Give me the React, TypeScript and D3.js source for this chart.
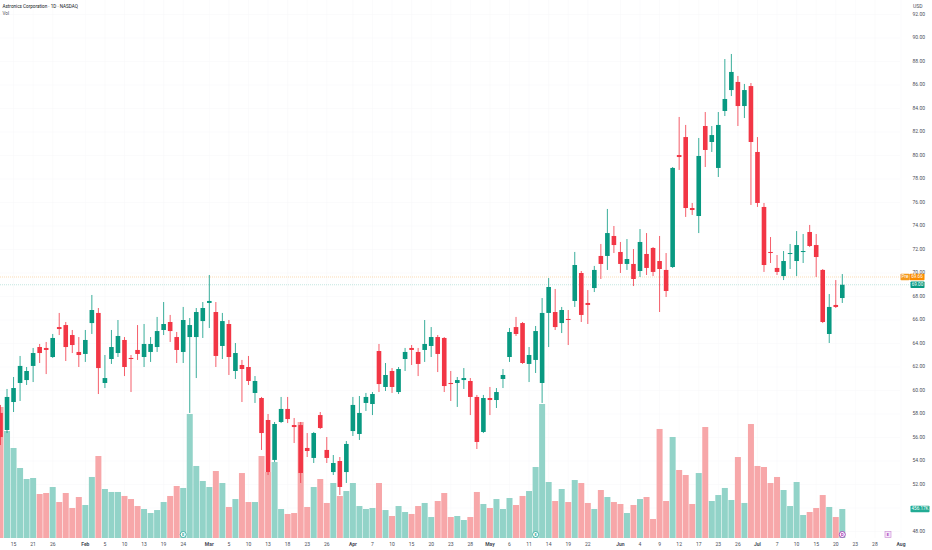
import React, { useEffect, useRef } from 'react';
import * as d3 from 'd3';

// Astronics Corporation, 1D, NASDAQ — daily bars, oldest first
const opens = [
  58.09, 56.64, 59.02, 60.64, 60.89, 62.09, 63.70, 63.62, 62.85, 65.40,
  65.57, 64.72, 63.28, 63.11, 65.74, 66.60, 60.64, 62.68, 63.19, 64.30,
  62.77, 63.45, 62.85, 63.28, 63.70, 65.15, 65.83, 64.55, 63.28, 64.55,
  64.55, 65.91, 67.45, 66.68, 63.79, 65.66, 61.66, 62.17, 62.00, 59.79,
  59.36, 57.49, 54.09, 57.32, 58.43, 57.06, 57.06, 55.11, 54.26, 57.91,
  54.94, 53.06, 54.00, 53.06, 56.55, 56.30, 58.94, 58.85, 63.36, 60.30,
  61.66, 59.87, 62.68, 63.62, 63.28, 63.45, 63.79, 64.55, 64.47, 60.64,
  60.64, 60.89, 60.81, 59.45, 56.47, 59.36, 59.19, 60.98, 62.85, 65.40,
  65.74, 62.26, 62.60, 60.64, 66.60, 66.68, 65.74, 66.09, 67.62, 70.00,
  67.45, 68.72, 71.45, 71.45, 73.15, 71.79, 70.77, 70.77, 70.17, 71.62,
  72.13, 71.02, 70.26, 70.51, 80.04, 81.57, 75.53, 74.85, 82.51, 81.15,
  78.94, 83.79, 85.57, 86.26, 84.21, 85.91, 80.30, 75.62, 71.79, 70.43,
  69.74, 71.62, 71.02, 71.79, 73.49, 72.38, 70.26, 64.81, 67.28, 67.87,
];
const highs = [
  58.77, 60.13, 61.15, 62.94, 62.00, 63.62, 63.96, 64.13, 64.81, 66.60,
  65.83, 65.15, 64.55, 65.15, 68.13, 67.02, 63.02, 65.15, 66.00, 64.55,
  63.02, 65.57, 65.66, 64.55, 66.26, 67.53, 66.43, 64.98, 67.11, 66.17,
  67.02, 67.53, 69.83, 67.53, 66.60, 66.00, 64.04, 62.60, 62.94, 61.23,
  59.45, 58.00, 57.32, 59.45, 59.45, 57.66, 57.32, 56.38, 56.47, 58.17,
  56.04, 54.51, 54.34, 55.70, 59.45, 59.53, 59.79, 59.87, 63.96, 62.34,
  61.91, 62.00, 63.62, 63.87, 63.62, 66.00, 65.40, 64.72, 64.55, 61.66,
  61.15, 61.91, 61.06, 59.62, 59.62, 60.30, 60.21, 61.83, 65.32, 66.26,
  65.83, 63.70, 65.49, 67.87, 69.57, 68.64, 67.11, 66.85, 71.79, 70.17,
  68.55, 70.60, 72.47, 75.45, 74.00, 72.64, 72.89, 72.04, 73.74, 73.40,
  72.21, 73.15, 71.70, 79.02, 83.28, 82.60, 75.96, 81.49, 83.70, 82.51,
  83.70, 88.21, 88.64, 86.77, 86.09, 86.17, 81.57, 75.96, 73.06, 71.53,
  71.87, 72.47, 73.57, 73.32, 74.09, 73.32, 70.34, 68.21, 69.40, 69.91,
];
const lows = [
  55.36, 56.38, 58.17, 59.11, 60.47, 60.72, 62.34, 61.40, 62.77, 64.72,
  62.51, 63.19, 62.00, 62.43, 64.81, 59.70, 60.21, 62.26, 62.85, 61.23,
  59.87, 62.60, 62.00, 62.43, 63.28, 64.72, 64.13, 62.34, 62.34, 58.09,
  61.06, 64.47, 65.32, 62.00, 62.68, 61.32, 60.98, 59.02, 60.47, 58.94,
  54.94, 52.81, 53.91, 57.23, 57.23, 55.53, 52.13, 54.34, 53.83, 56.72,
  53.83, 52.81, 51.11, 52.13, 56.13, 55.79, 58.26, 57.91, 59.87, 59.96,
  59.79, 59.70, 61.66, 62.17, 61.23, 62.43, 62.85, 61.57, 59.87, 59.11,
  58.60, 60.13, 57.91, 55.02, 56.38, 57.91, 58.51, 60.21, 62.43, 64.64,
  62.26, 60.72, 61.49, 58.94, 63.70, 65.15, 64.89, 63.87, 67.11, 65.83,
  65.66, 68.38, 69.49, 70.26, 71.70, 70.00, 70.26, 68.89, 69.66, 69.83,
  69.74, 66.68, 67.96, 70.43, 78.77, 74.77, 74.94, 73.40, 79.02, 80.30,
  78.17, 83.36, 85.06, 82.51, 83.19, 75.79, 75.62, 70.09, 70.85, 69.83,
  69.40, 70.34, 69.74, 70.85, 72.21, 69.66, 65.74, 64.04, 67.02, 67.45,
];
const closes = [
  56.04, 59.45, 60.21, 62.09, 61.66, 63.19, 63.19, 63.45, 64.47, 65.23,
  63.70, 63.87, 63.02, 64.30, 66.85, 61.91, 61.06, 63.70, 64.64, 62.00,
  62.68, 63.11, 63.96, 63.96, 65.06, 65.66, 65.06, 63.45, 66.00, 65.57,
  66.68, 67.02, 67.62, 62.94, 65.91, 62.85, 63.19, 61.83, 60.81, 60.81,
  56.38, 53.06, 57.15, 58.43, 57.57, 56.89, 52.98, 54.85, 56.38, 56.81,
  54.26, 53.83, 51.79, 55.45, 58.77, 58.09, 59.45, 59.70, 60.55, 61.32,
  60.30, 61.83, 63.28, 63.45, 62.26, 63.96, 64.55, 63.11, 60.38, 60.55,
  60.89, 61.06, 59.45, 55.62, 59.36, 59.19, 59.87, 61.32, 64.98, 64.81,
  62.34, 63.02, 65.06, 66.60, 68.81, 65.40, 66.85, 66.00, 70.68, 66.43,
  67.28, 70.26, 70.77, 73.40, 72.38, 70.77, 71.19, 69.49, 72.64, 70.43,
  70.09, 70.34, 68.47, 78.94, 79.87, 75.53, 75.36, 79.96, 80.47, 81.74,
  82.60, 84.81, 87.11, 84.21, 85.57, 81.15, 75.96, 70.68, 71.70, 70.09,
  71.02, 71.70, 72.38, 71.87, 72.30, 71.36, 65.83, 67.11, 67.11, 69.00,
];
// volume in thousands of shares
const volumes = [
  2061, 1683, 1416, 1101, 928, 944, 692, 708, 802, 566,
  708, 472, 645, 519, 960, 1290, 771, 724, 724, 661,
  613, 503, 456, 393, 440, 566, 661, 818, 787, 1951,
  1133, 897, 802, 1054, 865, 488, 613, 1022, 566, 566,
  1290, 1038, 1195, 456, 378, 393, 1825, 488, 802, 928,
  551, 865, 661, 739, 865, 503, 456, 472, 865, 440,
  346, 503, 409, 378, 503, 551, 330, 582, 708, 330,
  346, 283, 330, 724, 535, 472, 613, 456, 629, 519,
  661, 739, 1117, 2108, 881, 582, 771, 566, 912, 865,
  551, 456, 755, 645, 566, 535, 393, 519, 613, 645,
  299, 1715, 582, 1589, 1070, 991, 535, 1022, 1746, 582,
  676, 787, 598, 1274, 551, 1793, 1133, 1117, 865, 960,
  755, 503, 881, 362, 409, 472, 676, 488, 330, 456.17,
];

// time axis: bar index of each label (the last three lie in the future)
const tickIndex = [
  2, 5, 8, 13, 16, 19, 22, 25, 28, 32, 35, 38, 41, 44, 47, 50, 54, 57, 60, 63, 66, 69,
  72, 75, 78, 81, 84, 87, 90, 95, 98, 101, 104, 107, 110, 113, 116, 119, 122, 125, 128,
  131, 134, 138,
];
const tickText = [
  '15', '21', '26', 'Feb', '5', '10', '13', '19', '24', 'Mar', '5', '10', '13', '18', '23', '26', 'Apr', '7', '10', '15', '20', '23',
  '28', 'May', '6', '11', '14', '19', '22', 'Jun', '4', '9', '12', '17', '23', '26', 'Jul', '7', '10', '15', '20',
  '23', '28', 'Aug',
];
const months = ['Feb', 'Mar', 'Apr', 'May', 'Jun', 'Jul', 'Aug'];

const priceTicks = [48, 50, 52, 54, 56, 58, 60, 62, 64, 66, 68, 70, 72, 74, 76, 78, 80, 82, 84, 86, 88, 90, 92];
const lastPrice = 69.0;
const prePrice = 69.66;

// events shown on the time axis
const earningsIndex = [28, 82];
const dividendIndex = [129];
const upcomingIndex = [136];

const W = 932;
const H = 550;
const UP = '#089981';
const DOWN = '#f23645';
const UP_VOL = '#92d3c8';
const DOWN_VOL = '#f7a7a9';
const FONT = 'Roboto, "Liberation Sans", sans-serif';

export default function App() {
  const ref = useRef<SVGSVGElement>(null);

  useEffect(() => {
    if (!ref.current) return;
    const svg = d3.select(ref.current);
    svg.selectAll('*').remove();

    const n = closes.length;
    const x = d3.scaleLinear().domain([0, n - 1]).range([0.5, 842.3]);
    const y = d3.scaleLinear().domain([48, 92]).range([531.5, 14.5]);
    const vy = d3.scaleLinear().domain([0, d3.max(volumes) as number]).range([538, 404]);
    const idx = d3.range(n);
    const isUp = (i: number) => closes[i] >= opens[i];
    const volTagY = vy(volumes[n - 1]);

    svg.append('rect').attr('width', W).attr('height', H).attr('fill', '#ffffff');

    // faint grid
    const grid = svg.append('g').attr('stroke', '#f6f7f9').attr('stroke-width', 0.5);
    priceTicks.forEach((p) => {
      grid.append('line').attr('x1', 0).attr('x2', 900).attr('y1', y(p)).attr('y2', y(p));
    });
    tickIndex.forEach((t) => {
      grid.append('line').attr('x1', x(t)).attr('x2', x(t)).attr('y1', 0).attr('y2', 538);
    });

    // volume
    svg.append('g')
      .selectAll('rect')
      .data(idx)
      .join('rect')
      .attr('x', (i) => x(i) - 3)
      .attr('width', 6)
      .attr('y', (i) => vy(volumes[i]))
      .attr('height', (i) => 538 - vy(volumes[i]))
      .attr('fill', (i) => (isUp(i) ? UP_VOL : DOWN_VOL));

    // pre-market and last price lines
    svg.append('line')
      .attr('x1', 0).attr('x2', 900)
      .attr('y1', y(prePrice)).attr('y2', y(prePrice))
      .attr('stroke', '#f7a540').attr('stroke-opacity', 0.55)
      .attr('stroke-width', 0.7).attr('stroke-dasharray', '1,1');
    svg.append('line')
      .attr('x1', 0).attr('x2', 911)
      .attr('y1', y(lastPrice)).attr('y2', y(lastPrice))
      .attr('stroke', UP).attr('stroke-opacity', 0.35)
      .attr('stroke-width', 0.7).attr('stroke-dasharray', '1,1');

    // candles
    const candles = svg.append('g');
    candles.selectAll('line')
      .data(idx)
      .join('line')
      .attr('x1', (i) => x(i)).attr('x2', (i) => x(i))
      .attr('y1', (i) => y(highs[i])).attr('y2', (i) => y(lows[i]))
      .attr('stroke', (i) => (isUp(i) ? UP : DOWN))
      .attr('stroke-width', 0.8);
    candles.selectAll('rect')
      .data(idx)
      .join('rect')
      .attr('x', (i) => x(i) - 2.3)
      .attr('width', 4.6)
      .attr('y', (i) => y(Math.max(opens[i], closes[i])))
      .attr('height', (i) => Math.max(1, Math.abs(y(opens[i]) - y(closes[i]))))
      .attr('fill', (i) => (isUp(i) ? UP : DOWN));

    // price scale (labels under the volume tag are hidden, as on the platform)
    const axis = svg.append('g').attr('font-family', FONT).attr('font-size', 5).attr('fill', '#4a4e59');
    axis.append('text').attr('x', 913).attr('y', 6.5).attr('dominant-baseline', 'middle').text('USD');
    priceTicks
      .filter((p) => Math.abs(y(p) - volTagY) > 5)
      .forEach((p) => {
        axis.append('text')
          .attr('x', 912.5).attr('y', y(p))
          .attr('dominant-baseline', 'middle')
          .text(p.toFixed(2));
      });

    // time scale
    tickIndex.forEach((t, k) => {
      axis.append('text')
        .attr('x', x(t)).attr('y', 544.5)
        .attr('text-anchor', 'middle')
        .attr('dominant-baseline', 'middle')
        .attr('font-weight', months.includes(tickText[k]) ? 700 : 400)
        .text(tickText[k]);
    });

    // price tags
    const tag = (x0: number, w: number, yc: number, fill: string, label: string) => {
      svg.append('rect').attr('x', x0).attr('y', yc - 3.2).attr('width', w).attr('height', 6.4)
        .attr('rx', 0.8).attr('fill', fill);
      svg.append('text').attr('x', x0 + w / 2).attr('y', yc)
        .attr('text-anchor', 'middle').attr('dominant-baseline', 'middle')
        .attr('font-family', FONT).attr('font-size', 4.6).attr('fill', '#ffffff')
        .text(label);
    };
    tag(900.5, 9, y(prePrice), '#f59a1e', 'Pre');
    tag(909.5, 15, y(prePrice), '#fb8c00', prePrice.toFixed(2));
    tag(910.5, 14, y(lastPrice), UP, lastPrice.toFixed(2));
    tag(910.5, 19, volTagY, '#22ab94', `${volumes[n - 1].toFixed(2)}K`);

    // event markers
    const markers = svg.append('g').attr('font-family', FONT).attr('font-size', 4).attr('font-weight', 700);
    earningsIndex.forEach((e) => {
      markers.append('circle').attr('cx', x(e)).attr('cy', 534.5).attr('r', 3)
        .attr('fill', '#ffffff').attr('stroke', '#26a69a').attr('stroke-width', 0.8);
      markers.append('text').attr('x', x(e)).attr('y', 534.7).attr('text-anchor', 'middle')
        .attr('dominant-baseline', 'middle').attr('fill', '#26a69a').text('E');
    });
    dividendIndex.forEach((e) => {
      markers.append('circle').attr('cx', x(e)).attr('cy', 534.5).attr('r', 3)
        .attr('fill', '#ffffff').attr('stroke', '#9c27b0').attr('stroke-width', 0.8);
      markers.append('text').attr('x', x(e)).attr('y', 534.7).attr('text-anchor', 'middle')
        .attr('dominant-baseline', 'middle').attr('fill', '#9c27b0').text('D');
    });
    upcomingIndex.forEach((e) => {
      markers.append('rect').attr('x', x(e) - 3).attr('y', 531.5).attr('width', 6).attr('height', 6)
        .attr('fill', '#f6e8fa').attr('stroke', '#ce93d8').attr('stroke-width', 0.7);
      markers.append('text').attr('x', x(e)).attr('y', 534.7).attr('text-anchor', 'middle')
        .attr('dominant-baseline', 'middle').attr('fill', '#ab47bc').text('E');
    });

    // legend
    const legend = svg.append('g').attr('font-family', FONT).attr('fill', '#131722');
    legend.append('text').attr('x', 2.5).attr('y', 6.5).attr('dominant-baseline', 'middle')
      .attr('font-size', 4.6).text('Astronics Corporation · 1D · NASDAQ');
    legend.append('text').attr('x', 2.5).attr('y', 13.5).attr('dominant-baseline', 'middle')
      .attr('font-size', 4.6).attr('fill', '#4a4e59').text('Vol');
  }, []);

  return (
    <svg
      ref={ref}
      width={W}
      height={H}
      style={{ position: 'absolute', left: 0, top: 0, display: 'block' }}
    />
  );
}
